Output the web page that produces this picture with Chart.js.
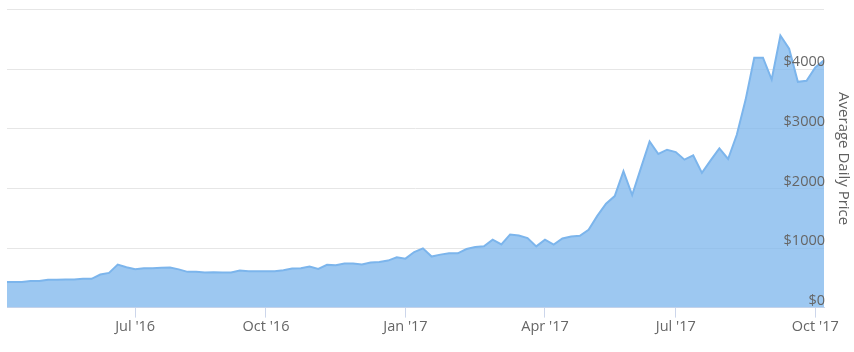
<!DOCTYPE html>
<html lang="en">

<head>
    <meta charset="UTF-8">
    <title>Average Daily Price</title>
    <script src="https://cdn.jsdelivr.net/npm/chart.js"></script>
    <style>
        body {
            background-color: #ffffff;
            margin: 0;
            font-family: "Open Sans", sans-serif;
        }

        #wrap {
            width: 854px;
            height: 352px;
        }
    </style>
</head>

<body>
    <div id="wrap"><canvas id="priceChart"></canvas></div>

    <script>
        // price per sample (roughly every 6 days)
        const prices = [
            428, 428, 430, 445, 445, 467, 467, 472, 472, 483,
            483, 555, 583, 722, 678, 645, 661, 661, 667, 672,
            642, 600, 600, 589, 592, 589, 589, 622, 611, 611,
            611, 611, 628, 656, 661, 689, 650, 717, 711, 739,
            739, 722, 756, 767, 789, 844, 822, 933, 994, 856,
            889, 911, 911, 983, 1017, 1028, 1139, 1061, 1228, 1211,
            1167, 1028, 1139, 1056, 1161, 1194, 1206, 1306, 1539, 1744,
            1872, 2289, 1890, 2340, 2789, 2578, 2650, 2611, 2483, 2556,
            2261, 2472, 2672, 2494, 2900, 3483, 4194, 4194, 3828, 4567,
            4344, 3789, 3806, 4030, 4150
        ];

        // x-axis ticks (sample index) and their labels
        const tickPos = [15, 30, 46, 62, 77, 93];
        const tickLabels = ["Jul '16", "Oct '16", "Jan '17", "Apr '17", "Jul '17", "Oct '17"];

        const yTicks = [0, 1000, 2000, 3000, 4000, 5000];

        const ctx = document.getElementById('priceChart').getContext('2d');

        new Chart(ctx, {
            type: 'line',
            data: {
                datasets: [{
                    label: 'Average Daily Price',
                    data: prices.map((p, i) => ({ x: i, y: p })),
                    borderColor: '#7cb5ec',
                    backgroundColor: 'rgba(124, 181, 236, 0.75)',
                    borderWidth: 2,
                    pointRadius: 0,
                    fill: 'origin',
                    tension: 0
                }]
            },
            options: {
                responsive: true,
                maintainAspectRatio: false,
                animation: false,
                layout: {
                    padding: { left: 7, top: 9, right: 2, bottom: 15 }
                },
                plugins: {
                    legend: { display: false },
                    tooltip: { enabled: false }
                },
                scales: {
                    x: {
                        type: 'linear',
                        min: 0.3,
                        max: 94,
                        afterBuildTicks: scale => {
                            scale.ticks = tickPos.map(v => ({ value: v }));
                        },
                        ticks: {
                            color: '#666666',
                            font: { family: 'Open Sans', size: 14.5 },
                            padding: 1,
                            maxRotation: 0,
                            callback: v => tickLabels[tickPos.indexOf(v)]
                        },
                        grid: {
                            drawOnChartArea: false,
                            color: '#ccd6eb',
                            tickLength: 10
                        },
                        border: { color: '#ccd6eb' }
                    },
                    y: {
                        position: 'right',
                        min: 0,
                        max: 5000,
                        afterBuildTicks: scale => {
                            scale.ticks = yTicks.map(v => ({ value: v }));
                        },
                        ticks: {
                            mirror: true,
                            z: 1,
                            padding: 1,
                            labelOffset: -7,
                            color: '#666666',
                            font: { family: 'Open Sans', size: 14.5 },
                            callback: v => v < 5000 ? '$' + v : ''
                        },
                        grid: {
                            color: '#e6e6e6',
                            drawTicks: false
                        },
                        border: { display: false },
                        title: {
                            display: true,
                            text: 'Average Daily Price',
                            color: '#5f5f5f',
                            font: { family: 'Open Sans', size: 15 },
                            padding: { top: 0, bottom: 8 }
                        }
                    }
                }
            }
        });
    </script>
</body>

</html>
